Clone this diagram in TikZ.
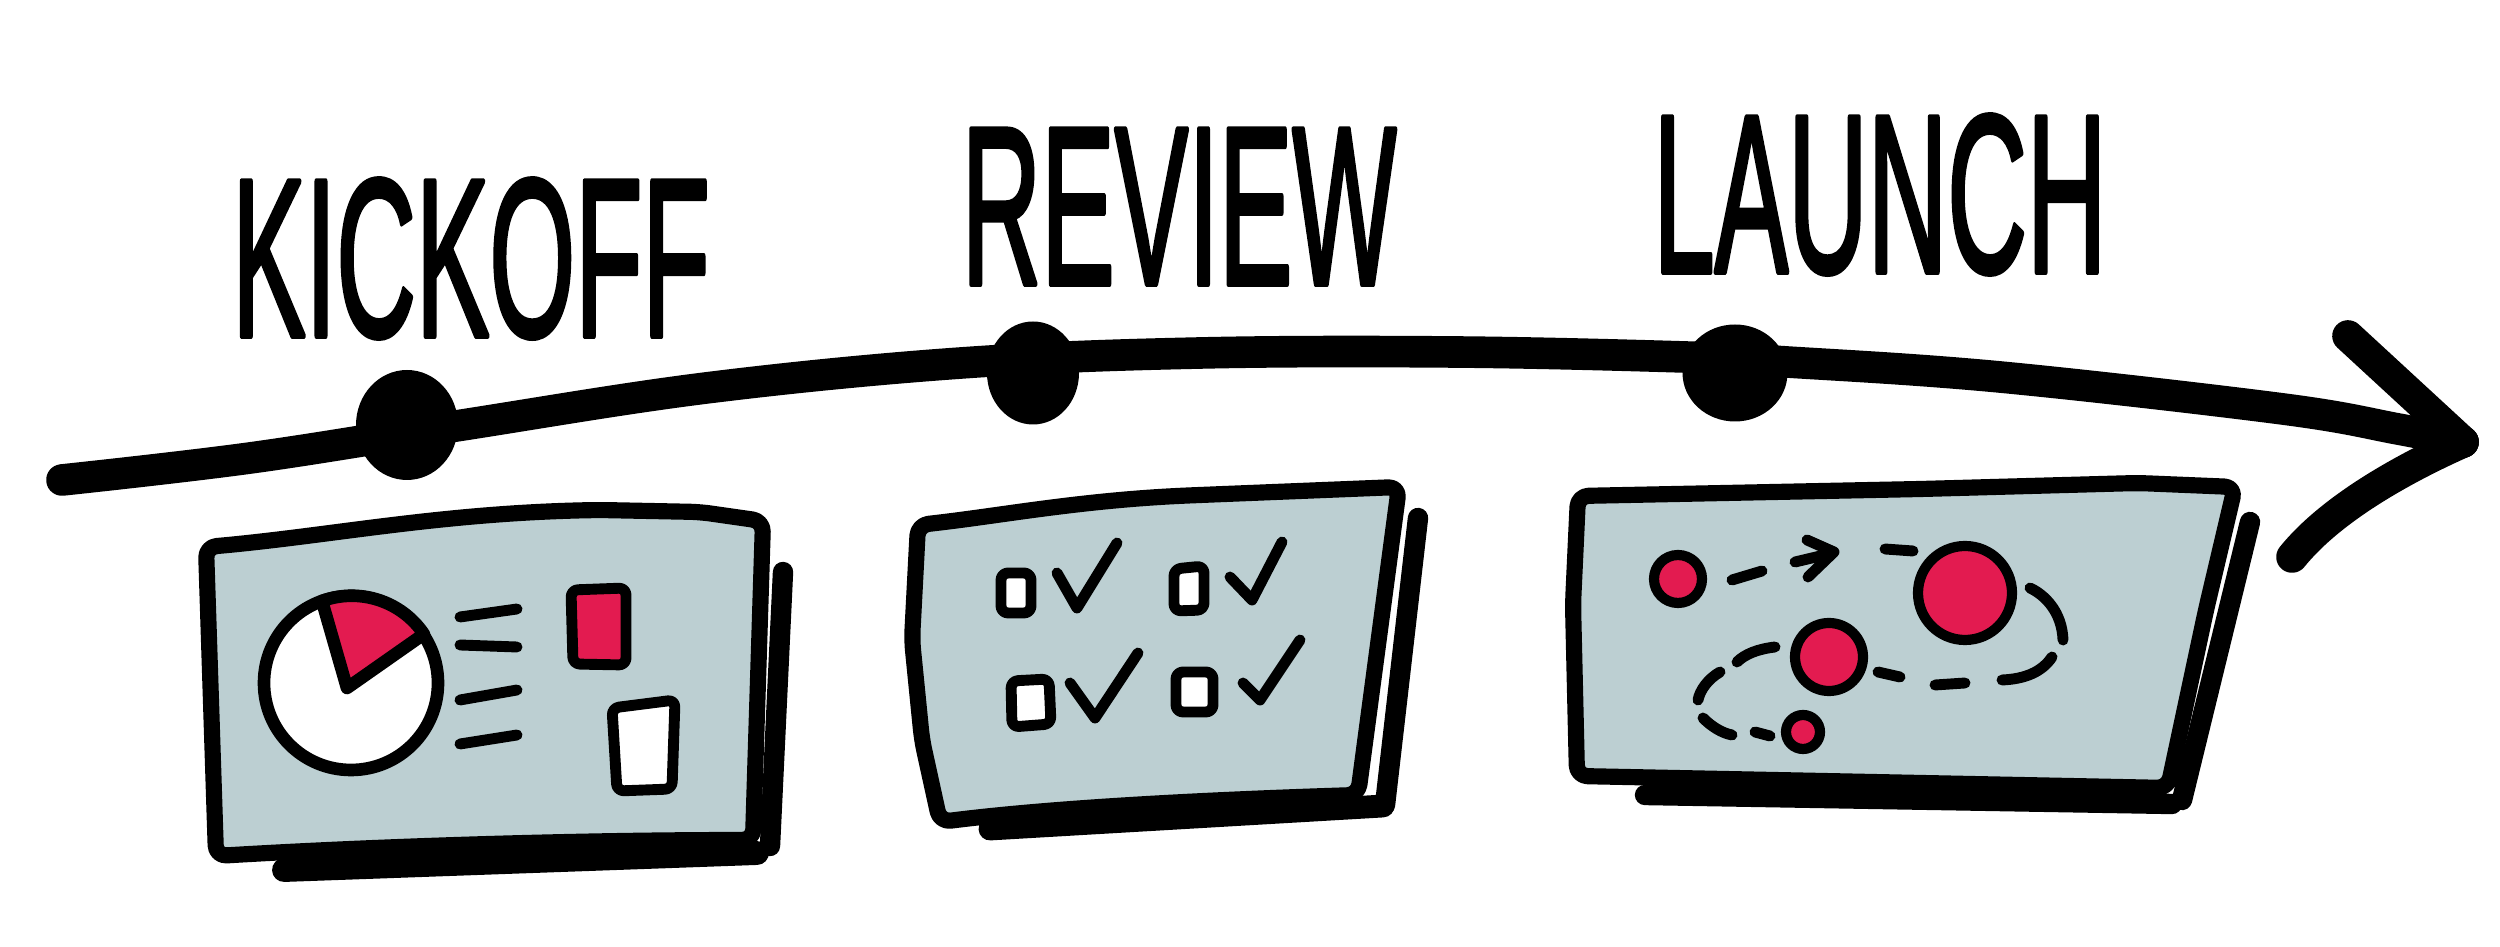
\documentclass[tikz,border=0pt]{standalone}
\usepackage{fontspec}
\setmainfont{Liberation Sans}
\newfontfamily\handfont{Liberation Sans}[FakeBold=2.5]
\usetikzlibrary{arrows.meta, positioning, shapes.geometric}

\definecolor{panel}{RGB}{188,207,210}
\definecolor{accent}{RGB}{227,27,80}

\begin{document}
\begin{tikzpicture}[
    x=0.1mm, y=0.1mm,
    line cap=round, line join=round,
    timeline/.style={line width=9pt},
    dot/.style={ellipse, fill=black, inner sep=0pt},
    phase/.style={font=\handfont\fontsize{64}{64}\selectfont, inner sep=0pt, anchor=base, xscale=0.49},
    panelbox/.style={draw, line width=4.6pt, fill=panel, rounded corners=3pt},
    boxshadow/.style={line width=5.8pt},
    ink/.style={line width=3.1pt},
    blob/.style={draw, fill=accent, line width=2.9pt}
]

    % Background / page size
    \fill[white] (0,0) rectangle (2500,-947);

    % Time line
    \coordinate (start) at (62,-480);
    \coordinate (tip) at (2463,-442);
    \draw[timeline] plot[smooth, tension=0.6] coordinates {(start) (250,-458) (456,-426) (706,-388) (961,-363) (1200,-353) (1455,-352) (1685,-357) (1787,-362) (2000,-377) (2283,-409) (2398,-429) (tip)};
    \draw[timeline] (2348,-336) -- (tip);
    \draw[timeline] (tip) .. controls (2400,-470) and (2330,-510) .. (2292,-557);

    % Milestones
    \node[dot, minimum width=10.2mm, minimum height=11mm] (kickoffdot) at (407,-425) {};
    \node[dot, minimum width=9.2mm, minimum height=10.3mm] (reviewdot) at (1033,-373) {};
    \node[dot, minimum width=10.5mm, minimum height=9.7mm] (launchdot) at (1735,-373) {};

    % Labels
    \node[phase] (kickoff) at (471,-336) {KICKOFF};
    \node[phase] (review) at (1179,-284) {REVIEW};
    \node[phase] (launch) at (1880,-272) {LAUNCH};

    % Kickoff board
    \draw[boxshadow] (783,-572) -- (770,-846);
    \draw[boxshadow, line width=6.8pt] (284,-870) -- (757,-853);
    \path[panelbox] (206,-547) .. controls (330,-536) and (440,-513) .. (600,-510) -- (700,-512) -- (763,-521) -- (753,-840) .. controls (600,-840) and (400,-845) .. (216,-856) -- cycle;
    \draw[fill=white, line width=3.6pt] (351,-683) circle[radius=87];
    \draw[fill=accent, line width=3.6pt] (347,-688) -- (322,-601) arc[start angle=110, end angle=34, radius=87] -- cycle;
    \foreach \ya/\yb in {617/609, 645/647, 700/690, 744/735}
        \draw[ink] (460,-\ya) -- (517,-\yb);
    \draw[ink, fill=accent, rounded corners=2pt] (571,-590) -- (626,-588) -- (626,-665) -- (573,-664) -- cycle;
    \draw[ink, fill=white, rounded corners=2pt] (612,-708) -- (675,-700) -- (672,-789) -- (617,-791) -- cycle;

    % Review board
    \draw[boxshadow] (1418,-518) -- (1385,-805);
    \draw[boxshadow, line width=6.5pt] (990,-829) -- (1383,-806);
    \path[panelbox] (918,-525) .. controls (1000,-516) and (1080,-500) .. (1200,-495) -- (1399,-487) -- (1358,-795) .. controls (1200,-800) and (1050,-808) .. (940,-822) -- (922,-740) -- (912,-640) -- cycle;
    \draw[ink, fill=white, rounded corners=2pt] (1001,-573) rectangle (1031,-613);
    \draw[ink, fill=white, rounded corners=2pt] (1174,-569) -- (1204,-566) -- (1204,-610) -- (1174,-611) -- cycle;
    \draw[ink, fill=white, rounded corners=2pt] (1011,-681) -- (1049,-679) -- (1051,-724) -- (1012,-727) -- cycle;
    \draw[ink, fill=white, rounded corners=2pt] (1176,-672) rectangle (1213,-712);
    \draw[ink] (1057,-573) -- (1077,-608) -- (1117,-543);
    \draw[ink] (1230,-577) -- (1252,-600) -- (1282,-542);
    \draw[ink] (1070,-683) -- (1095,-718) -- (1138,-653);
    \draw[ink] (1243,-683) -- (1260,-700) -- (1300,-640);

    % Launch board
    \draw[boxshadow] (2250,-522) -- (2182,-800);
    \draw[boxshadow, line width=5.8pt] (1645,-795) -- (2172,-804);
    \path[panelbox] (1578,-496) -- (1921,-489) -- (2138,-483) -- (2235,-487) -- (2206,-610) -- (2168,-788) -- (1577,-776) -- (1573,-604) -- cycle;
    \path[blob] (1678,-579) circle[radius=24];
    \path[blob] (1965,-593) circle[radius=47];
    \path[blob] (1829,-657) circle[radius=34];
    \path[blob] (1803,-732) circle[radius=17];
    % dashed trails between the dots
    \draw[ink] (1732,-580) -- (1762,-571);
    \draw[ink] (1795,-562) -- (1833,-553);
    \draw[ink] (1807,-540) -- (1834,-552) -- (1808,-577);
    \draw[ink] (1885,-549) -- (1913,-551);
    \draw[ink] (2030,-588) .. controls (2045,-595) and (2062,-612) .. (2063,-640);
    \draw[ink] (2052,-657) .. controls (2042,-672) and (2025,-679) .. (2002,-680);
    \draw[ink] (1935,-685) -- (1965,-683);
    \draw[ink] (1878,-672) -- (1900,-677);
    \draw[ink] (1775,-647) .. controls (1758,-649) and (1745,-654) .. (1737,-662);
    \draw[ink] (1720,-672) .. controls (1708,-679) and (1700,-690) .. (1698,-700);
    \draw[ink] (1703,-718) .. controls (1712,-727) and (1722,-733) .. (1732,-735);
    \draw[ink] (1755,-732) -- (1770,-736);

\end{tikzpicture}
\end{document}
